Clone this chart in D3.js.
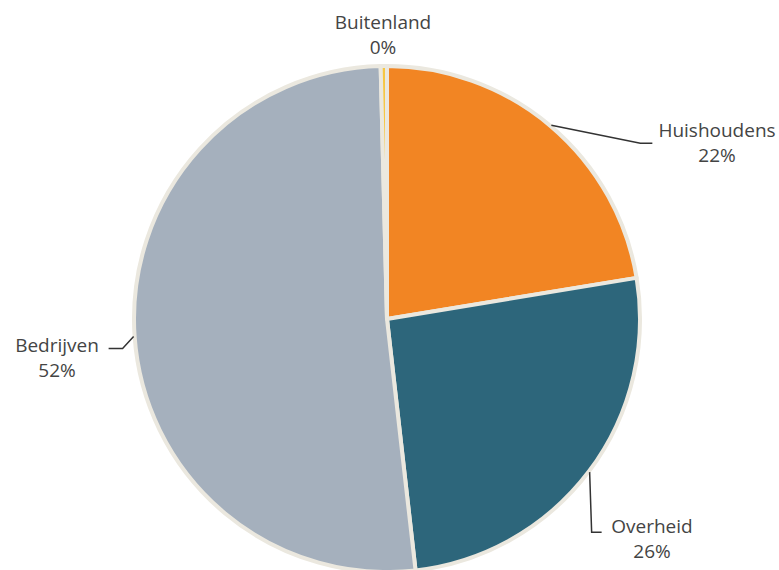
<!DOCTYPE html>
<html>
<head>
<meta charset="utf-8">
<script src="https://cdn.jsdelivr.net/npm/d3@7"></script>
<style>
  body { margin: 0; background: #fff; }
  text { font-family: "Open Sans", sans-serif; font-size: 19px; fill: #444; }
</style>
</head>
<body>
<div id="chart"></div>
<script>
// Sector shares (percent), in drawing order starting at 12 o'clock
const sectors = ["Huishoudens", "Overheid", "Bedrijven", "Buitenland"];
const shares = [22.4, 25.8, 51.4, 0.4];
const shareLabels = ["22%", "26%", "52%", "0%"];
const colors = ["#f28523", "#2d667b", "#a5b0bd", "#f6c744"];

const width = 779, height = 570;
const cx = 387, cy = 319, radius = 253;

const svg = d3.select("#chart").append("svg")
    .attr("width", width)
    .attr("height", height);

const g = svg.append("g").attr("transform", `translate(${cx},${cy})`);

const data = sectors.map((s, i) => ({ name: s, value: shares[i], label: shareLabels[i], color: colors[i] }));

const pie = d3.pie().value(d => d.value).sort(null);
const arc = d3.arc().innerRadius(0).outerRadius(radius);
const arcs = pie(data);

g.selectAll("path")
    .data(arcs)
    .enter().append("path")
    .attr("d", arc)
    .attr("fill", d => d.data.color)
    .attr("stroke", "#ebe8df")
    .attr("stroke-width", 4)
    .attr("stroke-linejoin", "round");

// label layout: elbow/end offsets relative to the slice edge point, text position
const layout = {
    Huishoudens: { elbow: [89, 18], end: [101, 18], text: [330, -182], anchor: "middle" },
    Overheid:    { elbow: [2, 60], end: [12, 60], text: [265, 214], anchor: "middle" },
    Bedrijven:   { elbow: [-11, 12], end: [-25, 12], text: [-330, 33], anchor: "middle" },
    Buitenland:  { elbow: null, text: [-4, -290], anchor: "middle" }
};

const rim = radius + 1;
arcs.forEach(d => {
    const a = (d.startAngle + d.endAngle) / 2;
    const px = rim * Math.sin(a), py = -rim * Math.cos(a);
    const l = layout[d.data.name];
    if (l.elbow) {
        g.append("polyline")
            .attr("points", [[px, py], [px + l.elbow[0], py + l.elbow[1]], [px + l.end[0], py + l.end[1]]]
                .map(p => p.join(",")).join(" "))
            .attr("fill", "none")
            .attr("stroke", "#333")
            .attr("stroke-width", 1.5);
    }
    const t = g.append("text")
        .attr("x", l.text[0])
        .attr("y", l.text[1])
        .attr("text-anchor", l.anchor);
    t.append("tspan").attr("x", l.text[0]).text(d.data.name);
    t.append("tspan").attr("x", l.text[0]).attr("dy", 25).text(d.data.label);
});
</script>
</body>
</html>
